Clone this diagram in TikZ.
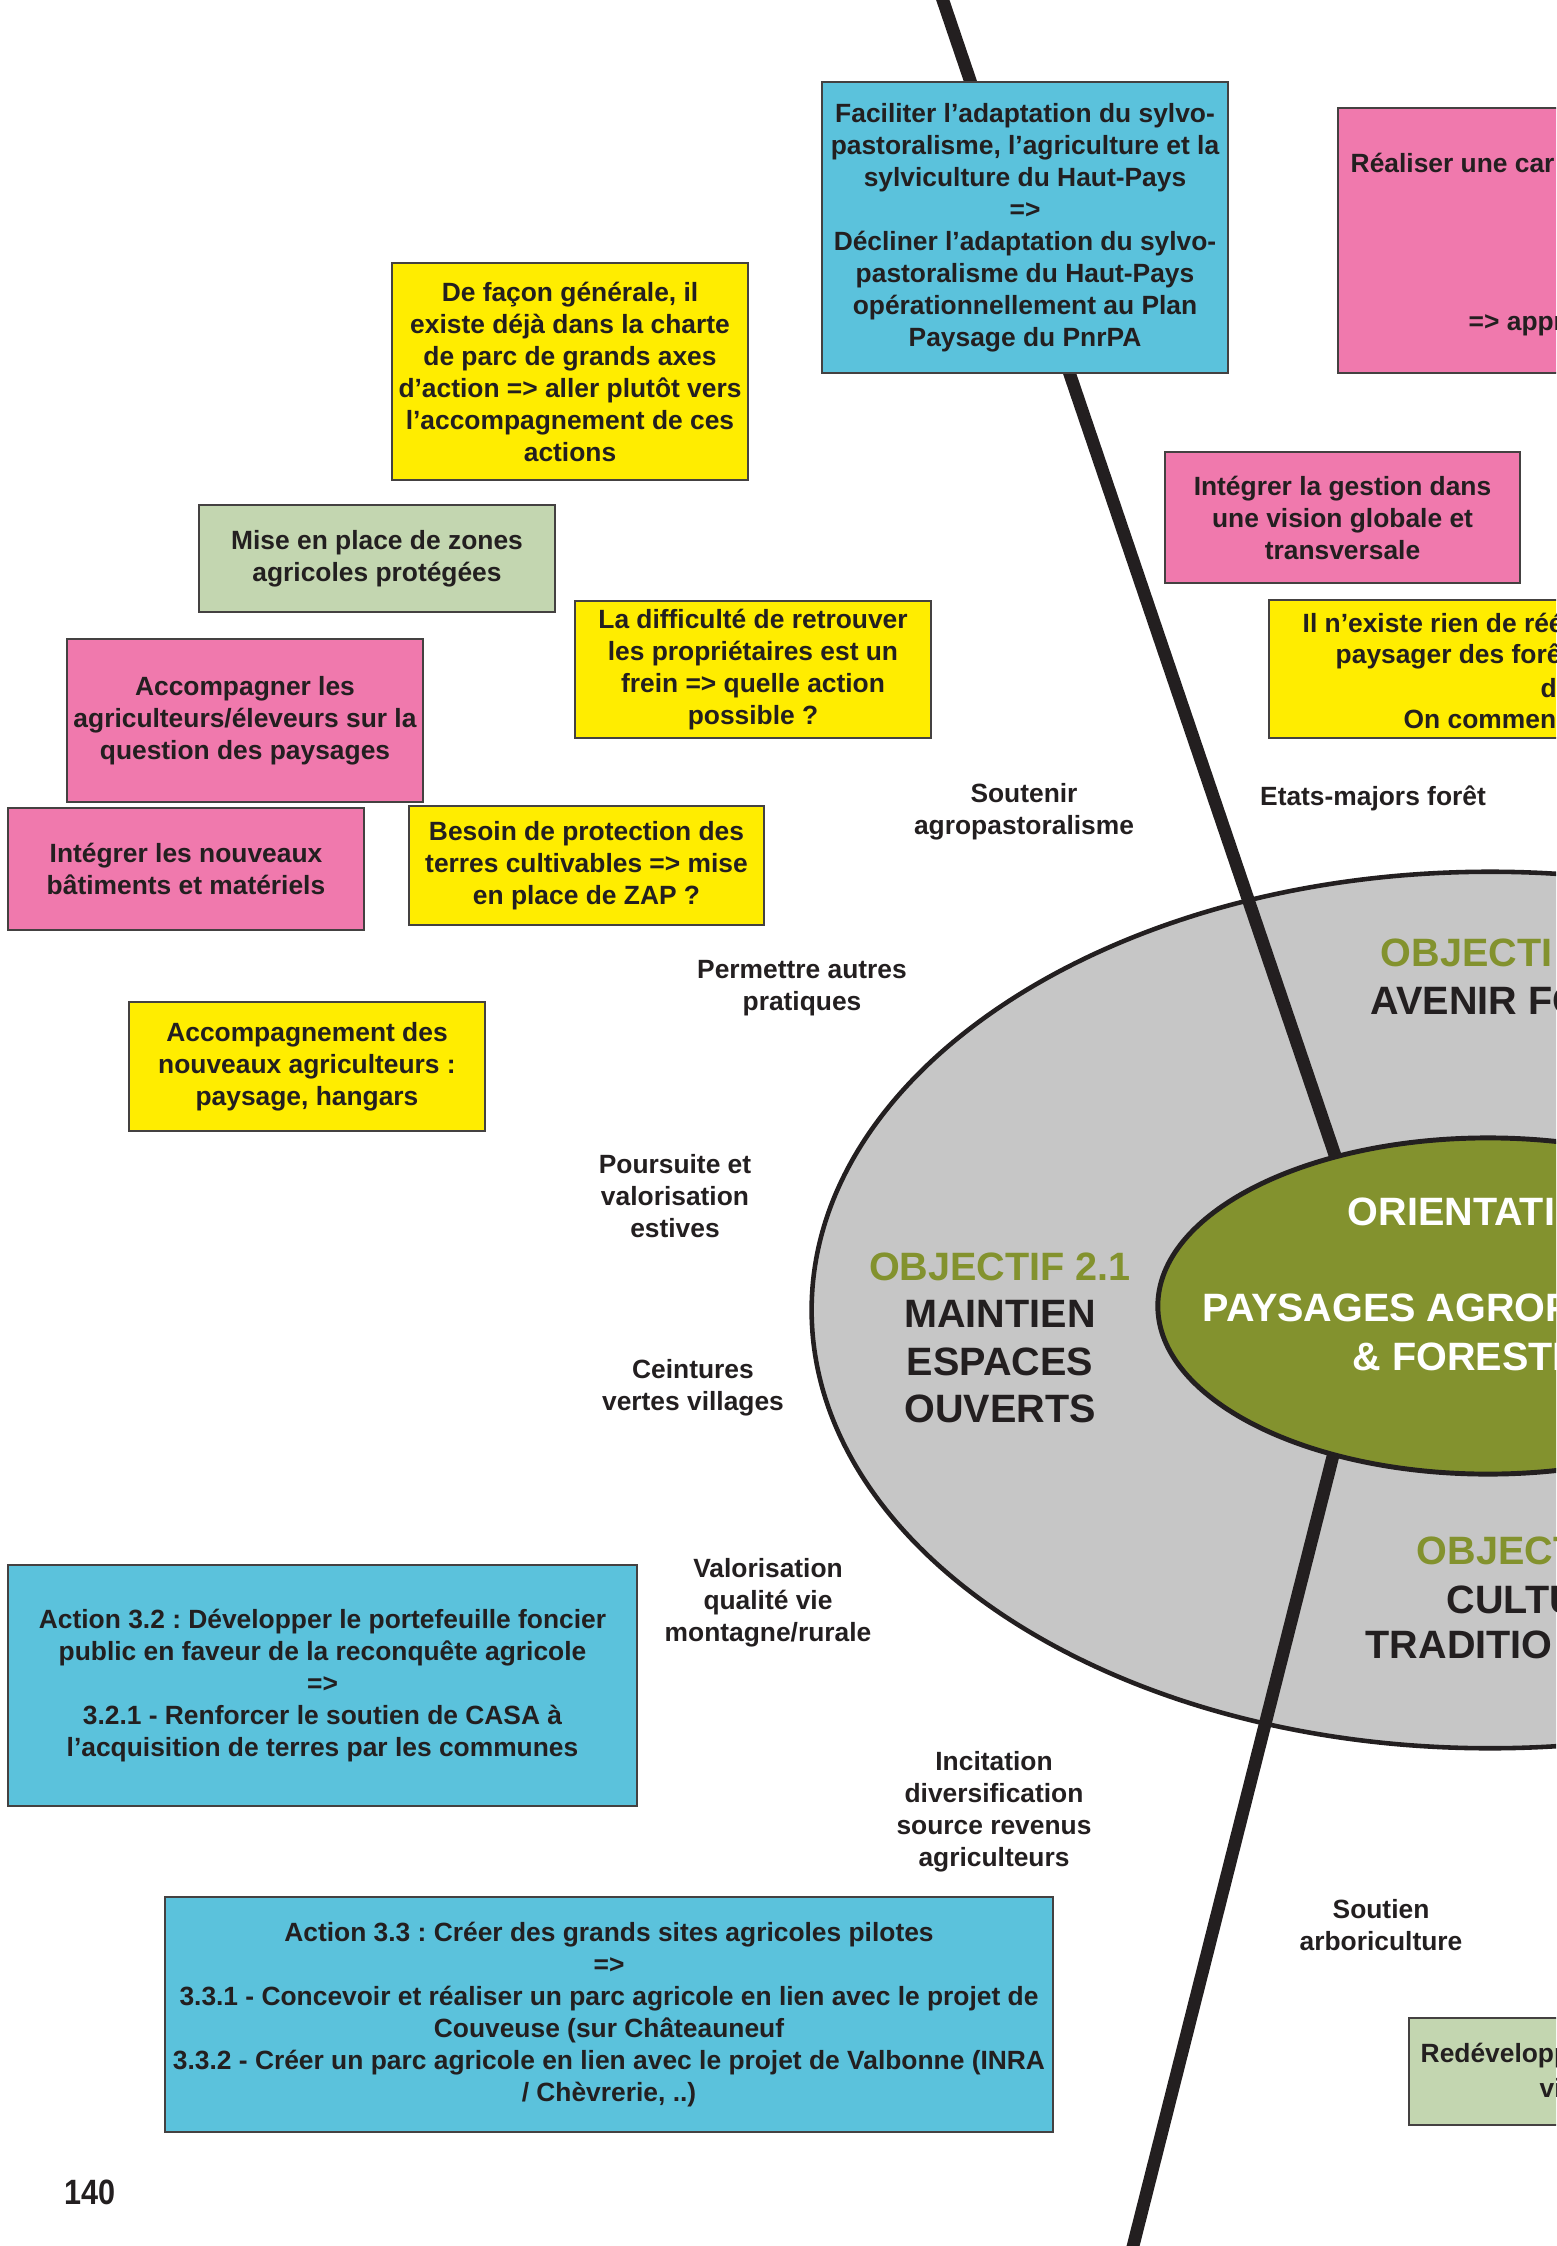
\documentclass[tikz,border=0pt]{standalone}
\usepackage{fontspec}
\setmainfont{Liberation Sans}
\usepackage{tikz}
\frenchspacing

\definecolor{ink}{RGB}{35,31,32}
\definecolor{cyanbox}{RGB}{91,194,220}
\definecolor{pinkbox}{RGB}{240,121,173}
\definecolor{yellowbox}{RGB}{255,237,0}
\definecolor{sagebox}{RGB}{195,214,176}
\definecolor{ringgray}{RGB}{198,198,198}
\definecolor{olivegreen}{RGB}{131,146,46}

\tikzset{
  card/.style={draw=ink!85, line width=0.5pt, inner sep=0pt, align=center, text=ink,
    font=\fontsize{7.5}{9.1}\selectfont\bfseries},
  bluecard/.style={card, fill=cyanbox},
  pinkcard/.style={card, fill=pinkbox},
  yellowcard/.style={card, fill=yellowbox},
  sagecard/.style={card, fill=sagebox},
  freetext/.style={align=center, inner sep=0pt, text=ink,
    font=\fontsize{7.5}{9.1}\selectfont\bfseries},
  ringtext/.style={align=center, inner sep=0pt, text=ink,
    font=\fontsize{11.25}{13.5}\selectfont\bfseries},
  divider/.style={line width=3.6pt, draw=ink},
}

\begin{document}
\begin{tikzpicture}[x=0.01cm,y=-0.01cm]
			%%%%% START %%%%%
			\useasboundingbox (0,0) rectangle (1556,2246);
			\clip (0,0) rectangle (1556,2246);
			
			% outer ring and the two dividing strokes
			\coordinate (hub) at (1490,1310);
			\draw[fill=ringgray, draw=ink, line width=1.3pt] (hub) ellipse [x radius=6.78cm, y radius=4.38cm];
			
			\coordinate (divtopA) at (936,-20);
			\coordinate (divtopB) at (1340,1170);
			\coordinate (divbotA) at (1337,1440);
			\coordinate (divbotB) at (1128,2266);
			\draw[divider] (divtopA) -- (divtopB);
			\draw[divider] (divbotA) -- (divbotB);
			
			% centre
			\draw[fill=olivegreen, draw=ink, line width=1.4pt] (1488,1306) ellipse [x radius=3.3cm, y radius=1.68cm];
			
			% ring labels
			\node[ringtext] (obj21) at (1000,1338) {\textcolor{olivegreen}{OBJECTIF 2.1}\\MAINTIEN\\ESPACES\\OUVERTS};
			\node[ringtext, anchor=west, text=olivegreen] (objtopA) at (1380,953) {OBJECTI};
			\node[ringtext, anchor=west] (objtopB) at (1370,1001) {AVENIR FO};
			\node[ringtext, anchor=west, text=white] (orientA) at (1347,1212) {ORIENTATI};
			\node[ringtext, anchor=west, text=white] (orientB) at (1202,1308) {PAYSAGES AGROP};
			\node[ringtext, anchor=west, text=white] (orientC) at (1352,1357) {\& FORESTI};
			\node[ringtext, anchor=west, text=olivegreen] (objbotA) at (1416,1551) {OBJECT};
			\node[ringtext, anchor=west] (objbotB) at (1446,1600) {CULTU};
			\node[ringtext, anchor=west] (objbotC) at (1365,1645) {TRADITIO};
			
			% cards
			\node[bluecard, minimum width=4.06cm, minimum height=2.91cm] (facil) at (1025,227.5)
				{Faciliter l’adaptation du sylvo-\\pastoralisme, l’agriculture et la\\sylviculture du Haut-Pays\\=>\\Décliner l’adaptation du sylvo-\\pastoralisme du Haut-Pays\\opérationnellement au Plan\\Paysage du PnrPA};
			\node[pinkcard, minimum width=3.56cm, minimum height=2.65cm] (realiser) at (1516,240.5) {};
			\node[freetext, anchor=west] (realiserA) at (1350,163) {Réaliser une car};
			\node[freetext, anchor=west] (realiserB) at (1468,325) {=> appr};
			
			\node[yellowcard, minimum width=3.56cm, minimum height=2.17cm] (defacon) at (570,371.5)
				{De façon générale, il\\existe déjà dans la charte\\de parc de grands axes\\d’action => aller plutôt vers\\l’accompagnement de ces\\actions};
			\node[pinkcard, minimum width=3.55cm, minimum height=1.31cm] (gestion) at (1342.5,517.5)
				{Intégrer la gestion dans\\une vision globale et\\transversale};
			\node[sagecard, minimum width=3.56cm, minimum height=1.07cm] (zap) at (377,558.5)
				{Mise en place de zones\\agricoles protégées};
			\node[yellowcard, minimum width=3.56cm, minimum height=1.37cm] (proprio) at (753,669.5)
				{La difficulté de retrouver\\les propriétaires est un\\frein => quelle action\\possible ?};
			\node[yellowcard, minimum width=3.56cm, minimum height=1.38cm] (foret) at (1447,669) {};
			\node[freetext, anchor=west] (foretA) at (1302,623) {Il n’existe rien de réé};
			\node[freetext, anchor=west] (foretB) at (1335,656) {paysager des forê};
			\node[freetext, anchor=west] (foretC) at (1540,688) {d};
			\node[freetext, anchor=west] (foretD) at (1403,719) {On commen};
			
			\node[pinkcard, minimum width=3.56cm, minimum height=1.63cm] (eleveurs) at (245,720.5)
				{Accompagner les\\agriculteurs/éleveurs sur la\\question des paysages};
			\node[pinkcard, minimum width=3.56cm, minimum height=1.22cm] (batiments) at (186,869)
				{Intégrer les nouveaux\\bâtiments et matériels};
			\node[yellowcard, minimum width=3.55cm, minimum height=1.19cm] (terres) at (586.5,865.5)
				{Besoin de protection des\\terres cultivables => mise\\en place de ZAP ?};
			\node[yellowcard, minimum width=3.56cm, minimum height=1.29cm] (nouveaux) at (307,1066.5)
				{Accompagnement des\\nouveaux agriculteurs :\\paysage, hangars};
			
			\node[bluecard, minimum width=6.29cm, minimum height=2.41cm] (action32) at (322.5,1685.5)
				{Action 3.2 : Développer le portefeuille foncier\\public en faveur de la reconquête agricole\\=>\\3.2.1 - Renforcer le soutien de CASA à\\l’acquisition de terres par les communes};
			\node[bluecard, minimum width=8.88cm, minimum height=2.35cm] (action33) at (609,2014.5)
				{Action 3.3 : Créer des grands sites agricoles pilotes\\=>\\3.3.1 - Concevoir et réaliser un parc agricole en lien avec le projet de\\Couveuse (sur Châteauneuf\\3.3.2 - Créer un parc agricole en lien avec le projet de Valbonne (INRA\\/ Chèvrerie, ..)};
			
			\node[sagecard, minimum width=3.56cm, minimum height=1.07cm] (redev) at (1587,2071.5) {};
			\node[freetext, anchor=west] (redevA) at (1420,2056) {Redévelopp};
			\node[freetext, anchor=west] (redevB) at (1539,2088) {vi};
			
			% loose themes around the ring
			\node[freetext] (agropast) at (1024,812) {Soutenir\\agropastoralisme};
			\node[freetext] (etats) at (1373,798) {Etats-majors forêt};
			\node[freetext] (pratiques) at (802,988) {Permettre autres\\pratiques};
			\node[freetext] (estives) at (675,1196) {Poursuite et\\valorisation\\estives};
			\node[freetext] (ceintures) at (693,1388) {Ceintures\\vertes villages};
			\node[freetext] (qualite) at (768,1603) {Valorisation\\qualité vie\\montagne/rurale};
			\node[freetext] (revenus) at (994,1812) {Incitation\\diversification\\source revenus\\agriculteurs};
			\node[freetext] (arbo) at (1381,1925) {Soutien\\arboriculture};
			
			\node[anchor=west, inner sep=0pt, text=ink, font=\fontsize{10}{12}\selectfont\bfseries] (page) at (64,2192) {\scalebox{0.87}[1]{140}};
			%%%%% END %%%%%
\end{tikzpicture}
\end{document}
